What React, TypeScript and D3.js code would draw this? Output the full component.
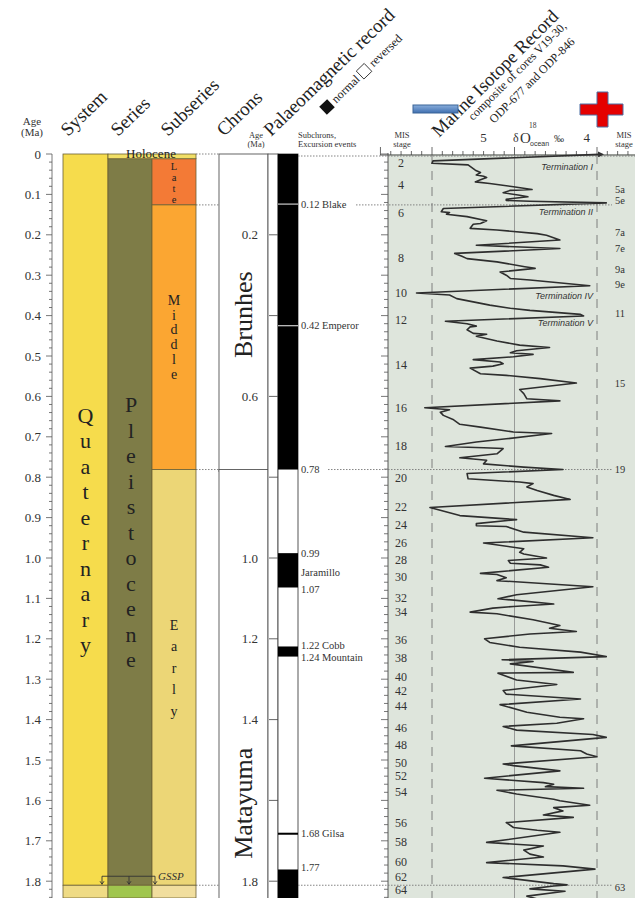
import React from "react";
import * as d3 from "d3";

// ---------------- DATA ----------------
const ageTickLabels = ["0","0.1","0.2","0.3","0.4","0.5","0.6","0.7","0.8","0.9","1.0","1.1","1.2","1.3","1.4","1.5","1.6","1.7","1.8"];
const ageTickValues = [0,0.1,0.2,0.3,0.4,0.5,0.6,0.7,0.8,0.9,1.0,1.1,1.2,1.3,1.4,1.5,1.6,1.7,1.8];
const chronTickAges = [0.2,0.4,0.6,0.8,1.0,1.2,1.4,1.6,1.8];
const chronTickLabels = ["0.2","","0.6","","1.0","1.2","1.4","","1.8"];

const systemUnits = [
  { name: "Quaternary", start: 0, end: 1.81 },
  { name: "", start: 1.81, end: 1.9 },
];
const seriesUnits = [
  { name: "Pleistocene", start: 0.0117, end: 1.81 },
  { name: "", start: 1.81, end: 1.9 },
];
const subseriesUnits = [
  { name: "Late", start: 0.0117, end: 0.126 },
  { name: "Middle", start: 0.126, end: 0.781 },
  { name: "Early", start: 0.781, end: 1.81 },
  { name: "", start: 1.81, end: 1.9 },
];
const holocene = { name: "Holocene", start: 0, end: 0.0117 };
const chronUnits = [
  { name: "Brunhes", start: 0, end: 0.781 },
  { name: "Matayuma", start: 0.781, end: 1.9 },
];
const normalPolarity = [[0, 0.781], [0.988, 1.073], [1.219, 1.244], [1.680, 1.685], [1.771, 1.9]];
const excursionAges = [0.124, 0.425];
const subchronLabels = [
  { age: 0.124, text: "0.12 Blake" },
  { age: 0.425, text: "0.42 Emperor" },
  { age: 0.782, text: "0.78" },
  { age: 0.988, text: "0.99" },
  { age: 1.037, text: "Jaramillo" },
  { age: 1.079, text: "1.07" },
  { age: 1.217, text: "1.22 Cobb" },
  { age: 1.246, text: "1.24 Mountain" },
  { age: 1.681, text: "1.68 Gilsa" },
  { age: 1.767, text: "1.77" },
];
const boundaryAges = [0, 0.126, 0.781, 1.81];

// δ18O record: [age Ma, δ18O ‰]
const isotopeRecord = [
  [0.001,3.88],[0.017,5.49],[0.023,5.50],[0.027,5.15],[0.040,5.08],[0.046,5.03],[0.052,5.07],[0.055,5.00],[0.058,4.97],[0.064,5.03],[0.069,5.08],[0.073,4.94],[0.081,4.71],[0.088,4.53],[0.090,4.74],[0.096,4.81],[0.102,4.65],[0.106,4.57],[0.112,4.78],[0.115,4.78],[0.117,4.55],[0.121,3.81],
  [0.135,5.39],[0.143,5.41],[0.145,5.33],[0.149,5.36],[0.155,5.16],[0.165,4.97],[0.172,5.03],[0.174,5.10],[0.184,5.13],[0.188,4.87],[0.197,4.48],[0.201,4.39],[0.213,4.26],[0.226,5.07],[0.234,4.26],[0.246,5.28],[0.253,5.21],[0.259,5.16],[0.267,4.87],[0.279,4.60],[0.283,4.50],[0.292,4.84],[0.300,4.78],[0.308,4.74],[0.312,4.55],[0.326,3.97],[0.344,5.65],[0.349,5.33],[0.358,5.26],[0.366,5.10],[0.374,4.94],[0.382,4.74],[0.387,4.55],[0.397,4.06],[0.401,4.03],[0.414,5.37],[0.420,5.16],[0.426,5.07],
  [0.428,5.13],[0.435,5.16],[0.444,5.10],[0.446,4.97],[0.451,5.07],[0.463,4.87],[0.473,4.65],[0.479,4.36],[0.487,4.68],[0.492,4.74],[0.496,4.52],[0.502,4.71],[0.509,5.10],[0.515,4.84],[0.519,4.81],[0.525,4.91],[0.530,5.13],[0.544,5.03],[0.548,4.78],[0.556,4.45],[0.567,4.10],[0.583,4.65],[0.593,4.61],[0.606,4.58],[0.611,4.26],[0.628,5.57],[0.633,5.33],[0.639,5.42],[0.647,5.39],[0.658,5.29],[0.669,5.23],[0.676,5.03],[0.688,4.71],[0.692,4.34],[0.705,4.78],[0.713,5.07],[0.724,5.37],[0.727,5.00],[0.729,4.81],[0.742,4.87],[0.752,5.23],[0.758,4.97],[0.767,5.00],[0.775,4.61],[0.781,4.23],[0.791,5.16],[0.804,5.15],[0.812,4.65],[0.816,4.52],[0.824,4.58],[0.833,4.48],[0.845,4.32],[0.855,4.16],[0.875,5.52],
  [0.895,5.23],[0.905,4.68],[0.915,5.07],[0.920,5.07],[0.922,4.78],[0.936,4.61],[0.950,3.94],[0.963,5.00],[0.977,4.61],[0.986,4.65],[0.990,4.61],[1.000,4.39],[1.006,4.76],[1.013,4.74],[1.017,4.45],[1.023,4.37],[1.038,5.03],[1.041,4.87],[1.049,4.78],[1.056,4.87],[1.071,3.94],[1.091,4.68],[1.101,4.86],[1.105,4.68],[1.114,4.32],[1.120,4.71],[1.124,4.91],[1.134,5.13],[1.138,4.87],[1.153,4.52],[1.167,4.26],[1.174,4.36],[1.182,4.10],[1.188,4.55],[1.200,4.99],[1.209,4.94],[1.221,4.65],[1.233,4.06],[1.244,3.81],[1.252,4.82],[1.256,4.52],[1.262,4.74],[1.283,4.13],[1.285,4.86],[1.302,4.68],[1.313,4.29],[1.328,4.81],[1.337,4.78],[1.349,4.06],
  [1.363,4.84],[1.382,4.58],[1.394,4.26],[1.398,4.03],[1.409,4.29],[1.417,4.81],[1.426,4.68],[1.437,3.94],[1.444,3.81],[1.465,4.73],[1.477,4.06],[1.485,4.00],[1.492,3.90],[1.510,4.81],[1.514,4.71],[1.525,4.32],[1.527,4.26],[1.545,4.99],[1.556,4.42],[1.560,4.32],[1.566,4.40],[1.570,4.03],[1.575,4.87],[1.584,4.68],[1.597,4.32],[1.601,4.26],[1.612,3.97],[1.618,4.32],[1.626,4.23],[1.636,4.42],[1.642,4.13],[1.655,4.78],[1.667,4.71],[1.674,4.48],[1.679,4.26],[1.704,4.97],[1.713,4.42],[1.723,4.61],[1.733,4.55],[1.740,4.42],[1.754,4.97],[1.762,4.23],[1.770,3.92],[1.791,4.81],[1.806,4.32],[1.809,4.19],[1.812,4.32],[1.819,4.55],[1.825,4.21],[1.837,4.58],[1.846,4.45],
];

const misLeftLabels = ["2","4","6","8","10","12","14","16","18","20","22","24","26","28","30","32","34","36","38","40","42","44","46","48","50","52","54","56","58","60","62","64"];
const misLeftAges = [0.022,0.077,0.146,0.257,0.344,0.411,0.522,0.629,0.723,0.802,0.874,0.918,0.963,1.005,1.047,1.099,1.134,1.203,1.248,1.295,1.329,1.366,1.421,1.463,1.507,1.540,1.579,1.656,1.703,1.752,1.790,1.822];
const misRightLabels = ["5a","5e","7a","7e","9a","9e","11","15","19","63"];
const misRightAges = [0.087,0.115,0.194,0.233,0.287,0.324,0.394,0.567,0.782,1.815];
const terminationLabels = ["Termination I","Termination II","Termination IV","Termination V"];
const terminationAges = [0.032,0.144,0.351,0.418];

const isoTickLabels = ["5","4"];
const isoTickValues = [5, 4];
const isoGridValues = [5.5, 4.7, 3.9];
const isoMinorTicks = [6.0,5.9,5.8,5.7,5.6,5.5,5.4,5.3,5.2,5.1,5.0,4.9,4.8,4.7,4.6,4.5,4.4,4.3,4.2,4.1,4.0,3.9,3.8,3.7,3.6];

// ---------------- STYLE ----------------
const COLORS: Record<string, string> = {
  Quaternary: "#F6DC4C",
  Pleistocene: "#7E7C47",
  Holocene: "#F1DF66",
  Late: "#F37A36",
  Middle: "#FBA632",
  Early: "#ECD676",
  sysBelow: "#EFDB85",
  serBelow: "#A0C64E",
  subBelow: "#F1DE9E",
};
const SERIF = "'Liberation Serif', 'Times New Roman', serif";
const SANS = "'Liberation Sans', Arial, sans-serif";
const BORDER = "#6b6035";
const TXT = "#333";

const W = 635, H = 898;
const y = d3.scaleLinear().domain([0, 1.8]).range([154, 881.2]);
const xIso = d3.scaleLinear().domain([5.5, 3.9]).range([432, 597]);

const COL = {
  axis: 52, sys: [63, 108], ser: [108, 152], sub: [152, 196],
  chron: [219, 268], strip: [268, 278], pmag: [278, 298], panel: [388, 635],
};

function VerticalLetters({ text, x, cy, spacing, size }: any) {
  const letters = text.split("");
  const n = letters.length;
  return (
    <g>
      {letters.map((c: string, i: number) => (
        <text key={i} x={x} y={cy + (i - (n - 1) / 2) * spacing} textAnchor="middle"
          dominantBaseline="central" fontFamily={SERIF} fontSize={size} fill="#222">{c}</text>
      ))}
    </g>
  );
}

export default function App() {
  const minorAges = d3.range(0, 93).map((i) => i * 0.02);
  const line = d3.line<number[]>().x((d) => xIso(d[1])).y((d) => y(d[0]));
  const yc = (a: number) => Math.min(y(a), H);

  return (
    <div style={{ position: "absolute", left: 0, top: 0 }}>
      <svg width={W} height={H} style={{ display: "block", background: "#fff" }}>
        <defs>
          <clipPath id="panelClip"><rect x={COL.panel[0]} y={150} width={COL.panel[1] - COL.panel[0]} height={H - 150} /></clipPath>
          <linearGradient id="blueGrad" x1="0" y1="0" x2="0" y2="1">
            <stop offset="0" stopColor="#8AAEDC" />
            <stop offset="1" stopColor="#3F6FB0" />
          </linearGradient>
          <marker id="arrowStart" markerWidth="6" markerHeight="6" refX="1" refY="3" orient="auto-start-reverse" markerUnits="userSpaceOnUse">
            <path d="M0,0 L6,3 L0,6 z" fill="#333" />
          </marker>
        </defs>

        {/* ---------- Headers ---------- */}
        <text x={32} y={125} textAnchor="middle" fontFamily={SERIF} fontSize={11} fill={TXT}>Age</text>
        <text x={32} y={136} textAnchor="middle" fontFamily={SERIF} fontSize={11} fill={TXT}>(Ma)</text>
        {[["System", 68], ["Series", 118], ["Subseries", 168], ["Chrons", 224], ["Palaeomagnetic record", 271]].map(([t, x]) => (
          <text key={t as string} transform={`translate(${x},137) rotate(-44)`} fontFamily={SERIF} fontSize={19} fill="#222">{t}</text>
        ))}
        <g transform="translate(327,107) rotate(-44)">
          <rect x={-5.5} y={-5.5} width={11} height={11} fill="#111" />
          <text x={9} y={4} fontFamily={SERIF} fontSize={12} fill="#222">normal</text>
          <rect x={46} y={-5.5} width={11} height={11} fill="#fff" stroke="#333" strokeWidth={0.9} />
          <text x={61} y={4} fontFamily={SERIF} fontSize={12} fill="#222">reversed</text>
        </g>
        <text x={256} y={138} textAnchor="middle" fontFamily={SERIF} fontSize={8.5} fill={TXT}>Age</text>
        <text x={256} y={147} textAnchor="middle" fontFamily={SERIF} fontSize={8.5} fill={TXT}>(Ma)</text>
        <text x={298} y={138} fontFamily={SERIF} fontSize={8.5} fill={TXT}>Subchrons,</text>
        <text x={298} y={147} fontFamily={SERIF} fontSize={8.5} fill={TXT}>Excursion events</text>
        <text x={402} y={138} textAnchor="middle" fontFamily={SERIF} fontSize={8.5} fill={TXT}>MIS</text>
        <text x={402} y={147} textAnchor="middle" fontFamily={SERIF} fontSize={8.5} fill={TXT}>stage</text>
        <text x={624} y={138} textAnchor="middle" fontFamily={SERIF} fontSize={8.5} fill={TXT}>MIS</text>
        <text x={624} y={147} textAnchor="middle" fontFamily={SERIF} fontSize={8.5} fill={TXT}>stage</text>
        <text transform="translate(439,138) rotate(-45)" fontFamily={SERIF} fontSize={18.5} fill="#222">Marine Isotope Record</text>
        <text transform="translate(473,121) rotate(-45)" fontFamily={SERIF} fontSize={12} fill="#222">composite of cores V19-30,</text>
        <text transform="translate(494,124) rotate(-45)" fontFamily={SERIF} fontSize={12} fill="#222">ODP-677 and ODP-846</text>
        {isoTickLabels.map((t, i) => (
          <text key={t} x={xIso(isoTickValues[i])} y={142} textAnchor="middle" fontFamily={SERIF} fontSize={13} fill={TXT}>{t}</text>
        ))}
        <text x={513} y={142} fontFamily={SERIF} fontSize={12} fill={TXT}>δ</text>
        <text x={520} y={143} fontFamily={SERIF} fontSize={15} fill={TXT}>O</text>
        <text x={529} y={128} fontFamily={SERIF} fontSize={7.5} fill={TXT}>18</text>
        <text x={530} y={146} fontFamily={SANS} fontSize={7} fill={TXT}>ocean</text>
        <text x={554} y={142} fontFamily={SERIF} fontSize={10} fill={TXT}>‰</text>

        <rect x={413} y={105} width={45} height={8} fill="url(#blueGrad)" stroke="#3A6597" strokeWidth={1} />
        <path d="M597,92 h11 v12 h15 v11 h-15 v12 h-11 v-12 h-17 v-11 h17 z" fill="#E50000" stroke="#4A6FA5" strokeWidth={1} />

        {/* ---------- Left age axis ---------- */}
        <line x1={COL.axis} x2={COL.axis} y1={y(0)} y2={H} stroke="#555" strokeWidth={0.8} />
        {minorAges.map((a, i) => (
          <line key={i} x1={COL.axis - (i % 5 === 0 ? 6 : 3)} x2={COL.axis} y1={y(a)} y2={y(a)} stroke="#555" strokeWidth={0.8} />
        ))}
        {ageTickLabels.map((t, i) => (
          <text key={t} x={41} y={y(ageTickValues[i])} textAnchor="end" dominantBaseline="central" fontFamily={SERIF} fontSize={13} fill={TXT}>{t}</text>
        ))}

        {/* ---------- Stratigraphic columns ---------- */}
        {systemUnits.map((u, i) => (
          <rect key={"s" + i} x={COL.sys[0]} width={COL.sys[1] - COL.sys[0]} y={y(u.start)} height={yc(u.end) - y(u.start)}
            fill={u.name ? COLORS[u.name] : COLORS.sysBelow} stroke={BORDER} strokeWidth={0.8} />
        ))}
        {seriesUnits.map((u, i) => (
          <rect key={"r" + i} x={COL.ser[0]} width={COL.ser[1] - COL.ser[0]} y={y(u.start)} height={yc(u.end) - y(u.start)}
            fill={u.name ? COLORS[u.name] : COLORS.serBelow} stroke={BORDER} strokeWidth={0.8} />
        ))}
        {subseriesUnits.map((u, i) => (
          <rect key={"b" + i} x={COL.sub[0]} width={COL.sub[1] - COL.sub[0]} y={y(u.start)} height={yc(u.end) - y(u.start)}
            fill={u.name ? COLORS[u.name] : COLORS.subBelow} stroke={BORDER} strokeWidth={0.8} />
        ))}
        <rect x={COL.ser[0]} width={COL.sub[1] - COL.ser[0]} y={y(holocene.start)} height={y(holocene.end) - y(holocene.start)}
          fill={COLORS.Holocene} stroke={BORDER} strokeWidth={0.8} />
        <text x={151} y={157.5} textAnchor="middle" fontFamily={SERIF} fontSize={13} fill="#222">{holocene.name}</text>

        <VerticalLetters text="Quaternary" x={(COL.sys[0] + COL.sys[1]) / 2} cy={530} spacing={25.5} size={22} />
        <VerticalLetters text="Pleistocene" x={(COL.ser[0] + COL.ser[1]) / 2 + 1} cy={532} spacing={25.5} size={22} />
        <VerticalLetters text="Late" x={174} cy={(y(0.0117) + y(0.126)) / 2 + 1} spacing={11} size={10.5} />
        <VerticalLetters text="Middle" x={174} cy={(y(0.126) + y(0.781)) / 2} spacing={14.8} size={14} />
        <VerticalLetters text="Early" x={174} cy={668} spacing={21.5} size={14} />

        {/* GSSP marker */}
        <g stroke="#333" strokeWidth={0.9} fill="none">
          <path d={`M102,${y(1.81) - 9} H155`} />
          {[102, 129, 155].map((x) => (
            <g key={x}>
              <line x1={x} x2={x} y1={y(1.81) - 9} y2={y(1.81) - 1} />
              <path d={`M${x - 2},${y(1.81) - 4} L${x},${y(1.81) - 1} L${x + 2},${y(1.81) - 4}`} />
            </g>
          ))}
        </g>
        <text x={158} y={y(1.81) - 5} fontFamily={SERIF} fontStyle="italic" fontSize={11} fill="#333">GSSP</text>

        {/* ---------- Chrons ---------- */}
        {chronUnits.map((u, i) => (
          <rect key={"c" + i} x={COL.chron[0]} width={COL.chron[1] - COL.chron[0]} y={y(u.start)} height={yc(u.end) - y(u.start) + 2}
            fill="#fff" stroke="#555" strokeWidth={0.9} />
        ))}
        <text transform={`translate(252,${y(0.398)}) rotate(-90)`} textAnchor="middle" fontFamily={SERIF} fontSize={26} fill="#222">{chronUnits[0].name}</text>
        <text transform={`translate(252,${y(1.607)}) rotate(-90)`} textAnchor="middle" fontFamily={SERIF} fontSize={26} fill="#222">{chronUnits[1].name}</text>
        <rect x={COL.strip[0]} width={COL.strip[1] - COL.strip[0]} y={y(0)} height={H} fill="#fff" stroke="#555" strokeWidth={0.9} />
        {chronTickAges.map((a, i) => (
          <g key={a}>
            <line x1={COL.strip[0] + 1} x2={COL.strip[1]} y1={y(a)} y2={y(a)} stroke="#555" strokeWidth={0.9} />
            {chronTickLabels[i] && (
              <text x={258} y={y(a)} textAnchor="end" dominantBaseline="central" fontFamily={SERIF} fontSize={13} fill={TXT}>{chronTickLabels[i]}</text>
            )}
          </g>
        ))}

        {/* ---------- Palaeomagnetic column ---------- */}
        <rect x={COL.pmag[0]} width={COL.pmag[1] - COL.pmag[0]} y={y(0)} height={H} fill="#fff" stroke="#444" strokeWidth={0.9} />
        {normalPolarity.map(([a, b], i) => (
          <rect key={"p" + i} x={COL.pmag[0]} width={COL.pmag[1] - COL.pmag[0]} y={y(a)} height={Math.max(yc(b) - y(a), 1.8)} fill="#000" />
        ))}
        {excursionAges.map((a) => (
          <line key={a} x1={COL.pmag[0]} x2={COL.pmag[1]} y1={y(a)} y2={y(a)} stroke="#ccc" strokeWidth={1.2} />
        ))}
        {subchronLabels.map((l) => (
          <text key={l.text} x={301} y={y(l.age)} dominantBaseline="central" fontFamily={SERIF} fontSize={10.5} fill={TXT}>{l.text}</text>
        ))}

        {/* ---------- Isotope panel ---------- */}
        <rect x={COL.panel[0]} y={y(0)} width={COL.panel[1] - COL.panel[0]} height={H - y(0)} fill="#DEE5DC" />
        <line x1={COL.panel[0]} x2={COL.panel[0]} y1={y(0) - 1} y2={H} stroke="#444" strokeWidth={0.9} />
        {minorAges.map((a, i) => (
          <line key={i} x1={COL.panel[0] - (i % 5 === 0 ? 7 : 4)} x2={COL.panel[0]} y1={y(a)} y2={y(a)} stroke="#555" strokeWidth={0.8} />
        ))}
        <line x1={380} x2={635} y1={155} y2={155} stroke="#444" strokeWidth={0.9} />
        {isoMinorTicks.map((v) => {
          const tall = isoGridValues.includes(v) || v === 6.0;
          return <line key={v} x1={xIso(v)} x2={xIso(v)} y1={155} y2={tall ? 147 : 151} stroke="#444" strokeWidth={0.8} />;
        })}
        {isoGridValues.map((v, i) => (
          <line key={v} x1={xIso(v)} x2={xIso(v)} y1={155} y2={H} stroke={i === 1 ? "#888" : "#666"} strokeWidth={0.8}
            strokeDasharray={i === 1 ? "none" : "9,7"} />
        ))}

        {/* boundary dotted lines */}
        {boundaryAges.map((a, i) => (
          <g key={a} stroke="#777" strokeWidth={0.9} strokeDasharray="1.5,1.5">
            <line x1={COL.sub[1]} x2={COL.chron[0]} y1={y(a)} y2={y(a)} />
            <line x1={i === 1 ? 356 : i === 2 ? 328 : COL.pmag[1]} x2={i === 0 ? 635 : 612} y1={y(a) + (i === 0 ? 2 : 0)} y2={y(a) + (i === 0 ? 2 : 0)} />
          </g>
        ))}

        <g clipPath="url(#panelClip)">
          <path d={line(isotopeRecord as any) || ""} fill="none" stroke="#2e2e2e" strokeWidth={1.6} strokeLinejoin="round" markerStart="url(#arrowStart)" />
        </g>

        {terminationLabels.map((t, i) => (
          <text key={t} x={593} y={y(terminationAges[i])} textAnchor="end" dominantBaseline="central" fontFamily={SANS} fontStyle="italic" fontSize={9} fill="#333">{t}</text>
        ))}
        {misLeftLabels.map((t, i) => (
          <text key={t} x={401} y={y(misLeftAges[i])} textAnchor="middle" dominantBaseline="central" fontFamily={SERIF} fontSize={12} fill={TXT}>{t}</text>
        ))}
        {misRightLabels.map((t, i) => (
          <text key={t} x={620} y={y(misRightAges[i])} textAnchor="middle" dominantBaseline="central" fontFamily={SERIF} fontSize={10.5} fill={TXT}>{t}</text>
        ))}
      </svg>
    </div>
  );
}
